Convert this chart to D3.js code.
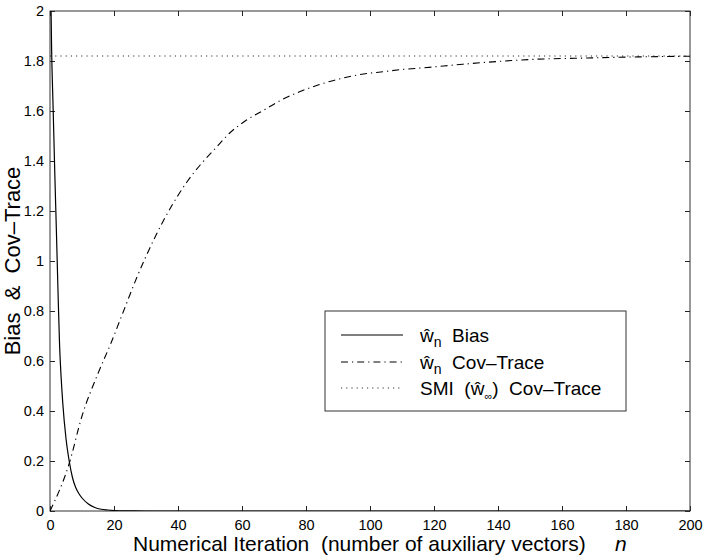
<!DOCTYPE html>
<html>
<head>
<meta charset="utf-8">
<script src="https://cdn.jsdelivr.net/npm/d3@7.9.0/dist/d3.min.js"></script>
<style>
  body { margin: 0; background: #fff; }
  svg text { font-family: "Liberation Sans", Arial, sans-serif; white-space: pre; }
</style>
</head>
<body>
<div id="chart"></div>
<script>
// values
const biasN   = [0, 0.5, 1, 1.5, 2, 2.5, 3, 3.5, 4, 5, 6, 7, 8, 9, 10, 12, 14, 16, 18, 20, 25, 30, 200];
const biasVal = [2.3, 1.85, 1.6, 1.35, 1.12, 0.88, 0.66, 0.53, 0.43, 0.29, 0.2, 0.135, 0.095, 0.07, 0.052, 0.028, 0.014, 0.007, 0.004, 0.002, 0.0005, 0, 0];

const covN   = [0, 6, 10, 15, 19, 23, 27, 33, 38, 43, 47, 52, 56, 61, 67, 72, 78, 84, 91, 98, 104, 110, 117, 123, 129, 142, 150, 168, 182, 200];
const covVal = [0, 0.19, 0.38, 0.55, 0.67, 0.8, 0.93, 1.1, 1.22, 1.32, 1.385, 1.455, 1.51, 1.56, 1.605, 1.642, 1.677, 1.705, 1.73, 1.748, 1.757, 1.766, 1.773, 1.78, 1.787, 1.8, 1.806, 1.812, 1.816, 1.819];

const smiLevel = 1.82;

const xTicks = [0, 20, 40, 60, 80, 100, 120, 140, 160, 180, 200];
const yTicks = [0, 0.2, 0.4, 0.6, 0.8, 1, 1.2, 1.4, 1.6, 1.8, 2];

const width = 703;
const height = 555;
const margin = { top: 11, right: 13, bottom: 44, left: 50 };

const svg = d3.select('#chart')
  .append('svg')
  .attr('width', width)
  .attr('height', height);

const x = d3.scaleLinear().domain([0, 200]).range([margin.left, width - margin.right]);
const y = d3.scaleLinear().domain([0, 2]).range([height - margin.bottom, margin.top]);

svg.append('clipPath').attr('id', 'plotclip')
  .append('rect')
  .attr('x', x(0)).attr('y', y(2))
  .attr('width', x(200) - x(0)).attr('height', y(0) - y(2));

// axes, ticks pointing inward like matlab
const tickFmt = d => String(d);
svg.append('g')
  .attr('transform', `translate(0,${y(0)})`)
  .call(d3.axisBottom(x).tickValues(xTicks).tickSize(-5).tickPadding(9).tickFormat(tickFmt));
svg.append('g')
  .attr('transform', `translate(${x(0)},0)`)
  .call(d3.axisLeft(y).tickValues(yTicks).tickSize(-5).tickPadding(6).tickFormat(tickFmt));
svg.append('g')
  .attr('transform', `translate(0,${y(2)})`)
  .call(d3.axisTop(x).tickValues(xTicks).tickSize(-5).tickFormat(''));
svg.append('g')
  .attr('transform', `translate(${x(200)},0)`)
  .call(d3.axisRight(y).tickValues(yTicks).tickSize(-5).tickFormat(''));

svg.selectAll('.domain').remove();
svg.selectAll('.tick line').attr('stroke', '#222');
svg.selectAll('.tick text')
  .attr('fill', '#000')
  .style('font-size', '14.5px')
  .style('font-family', '"Liberation Sans", Arial, sans-serif');

// frame
svg.append('rect')
  .attr('x', x(0)).attr('y', y(2))
  .attr('width', x(200) - x(0)).attr('height', y(0) - y(2))
  .attr('fill', 'none')
  .attr('stroke', '#333')
  .attr('stroke-width', 1);

const plot = svg.append('g').attr('clip-path', 'url(#plotclip)');

const line = d3.line()
  .x(d => x(d[0]))
  .y(d => y(d[1]))
  .curve(d3.curveMonotoneX);

// SMI cov-trace (dotted)
plot.append('path')
  .datum([[0, smiLevel], [200, smiLevel]])
  .attr('d', line)
  .attr('fill', 'none')
  .attr('stroke', '#333')
  .attr('stroke-width', 1)
  .attr('stroke-dasharray', '1.2,4');

// w_n cov-trace (dash-dot)
plot.append('path')
  .datum(d3.zip(covN, covVal))
  .attr('d', line)
  .attr('fill', 'none')
  .attr('stroke', '#000')
  .attr('stroke-width', 1.1)
  .attr('stroke-dasharray', '7,4,1.2,4');

// w_n bias (solid)
plot.append('path')
  .datum(d3.zip(biasN, biasVal))
  .attr('d', line)
  .attr('fill', 'none')
  .attr('stroke', '#000')
  .attr('stroke-width', 1.2);

// axis titles
const xt = svg.append('text')
  .attr('x', 133)
  .attr('y', 551)
  .style('font-size', '21px');
xt.append('tspan').text('Numerical Iteration  (number of auxiliary vectors)     ');
xt.append('tspan').style('font-style', 'italic').text('n');

svg.append('text')
  .attr('transform', `translate(20,${(y(0) + y(2)) / 2}) rotate(-90)`)
  .attr('text-anchor', 'middle')
  .style('font-size', '22px')
  .text('Bias  &  Cov\u2013Trace');

// legend
const lg = svg.append('g');
lg.append('rect')
  .attr('x', 325).attr('y', 311)
  .attr('width', 301).attr('height', 100)
  .attr('fill', '#fff')
  .attr('stroke', '#333')
  .attr('stroke-width', 1);

const legendRows = [
  { dash: null, main: '\u0175', sub: 'n', rest: '  Bias' },
  { dash: '7,4,1.2,4', main: '\u0175', sub: 'n', rest: '  Cov\u2013Trace' },
  { dash: '1.2,4', main: 'SMI  (\u0175', sub: '\u221e', rest: ')  Cov\u2013Trace' }
];
const rowY = [335, 362, 388];

legendRows.forEach((r, i) => {
  lg.append('line')
    .attr('x1', 341).attr('x2', 403)
    .attr('y1', rowY[i]).attr('y2', rowY[i])
    .attr('stroke', i === 2 ? '#333' : '#000')
    .attr('stroke-width', 1)
    .attr('stroke-dasharray', r.dash);
  const t = lg.append('text')
    .attr('x', 420)
    .attr('y', rowY[i] + 7)
    .style('font-size', '19px');
  t.append('tspan').text(r.main);
  t.append('tspan')
    .attr('dy', 5)
    .style('font-size', i === 2 ? '11px' : '14px')
    .text(r.sub);
  t.append('tspan').attr('dy', -5).text(r.rest);
});
</script>
</body>
</html>
